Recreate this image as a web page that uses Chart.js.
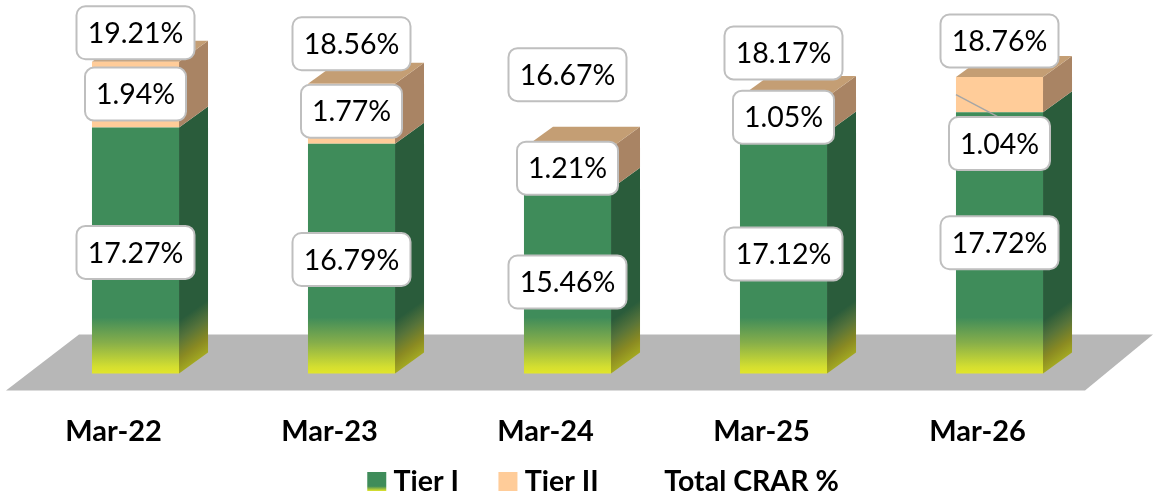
<!DOCTYPE html>
<html>
<head>
<meta charset="utf-8">
<style>html,body{margin:0;padding:0;background:#fff}canvas{display:block}</style>
<script src="https://cdn.jsdelivr.net/npm/chart.js@4"></script>
</head>
<body>
<canvas id="c" width="1153" height="498"></canvas>
<script>
const categories = ["Mar-22","Mar-23","Mar-24","Mar-25","Mar-26"];
const tierOne = [17.27,16.79,15.46,17.12,17.72];
const tierTwo = [1.94,1.77,1.21,1.05,1.04];
const totalCrar = [19.21,18.56,16.67,18.17,18.76];

// label nudges relative to each segment / stack top (pixels)
const tierOneNudge = [2,1,1,1,0];
const tierTwoNudge = [-0.5,-2.5,0,2.5,49];
const totalNudge = [-29,-40,-73,-44,-36];

const DEPTH_X = 29, DEPTH_Y = 21;
const FONT = "Lato, Carlito, sans-serif";
const LEGEND_SHIFT = 29;

function frontGradient(ctx, bottom){
  const g = ctx.createLinearGradient(0,bottom,0,bottom-56);
  g.addColorStop(0,'#E2E52B');
  g.addColorStop(0.12,'#D3DE30');
  g.addColorStop(0.55,'#86AE4A');
  g.addColorStop(1,'#3F8C5A');
  return g;
}
function poly(ctx, pts, fill){
  ctx.beginPath();
  pts.forEach((p,i)=> i?ctx.lineTo(p[0],p[1]):ctx.moveTo(p[0],p[1]));
  ctx.closePath();
  ctx.fillStyle = fill;
  ctx.fill();
}
const prism = {
  id:'prism',
  afterLayout(chart){
    const l = chart.legend;
    l.left += LEGEND_SHIFT; l.right += LEGEND_SHIFT;
    const d = 441 - l.top; l.top += d; l.bottom += d;
    chart.scales.x.bottom = 462;
  },
  beforeDatasetsDraw(chart){
    const ctx = chart.ctx, y = chart.scales.y, base = y.bottom;
    ctx.save();
    poly(ctx,[[6,base+17],[79,base-39],[chart.width,base-39],[1085,base+17]],'#B7B7B7');
    const m1 = chart.getDatasetMeta(0).data;
    m1.forEach((b,i)=>{
      const xr = b.x + b.width/2, xl = b.x - b.width/2;
      const y1 = y.getPixelForValue(tierOne[i]);
      const y2 = y.getPixelForValue(tierOne[i]+tierTwo[i]);
      const g = ctx.createLinearGradient(xr,base,xr-25,base-35);
      g.addColorStop(0,'#A3A821');
      g.addColorStop(0.28,'#8A8A22');
      g.addColorStop(0.65,'#56733A');
      g.addColorStop(1,'#2A5C3B');
      poly(ctx,[[xr,y1],[xr+DEPTH_X,y1-DEPTH_Y],[xr+DEPTH_X,base-DEPTH_Y],[xr,base]],g);
      poly(ctx,[[xr,y2],[xr+DEPTH_X,y2-DEPTH_Y],[xr+DEPTH_X,y1-DEPTH_Y],[xr,y1]],'#A98464');
      poly(ctx,[[xl,y2],[xl+DEPTH_X,y2-DEPTH_Y],[xr+DEPTH_X,y2-DEPTH_Y],[xr,y2]],'#C49E74');
    });
    ctx.restore();
  },
  afterDatasetsDraw(chart){
    const ctx = chart.ctx, y = chart.scales.y, base = y.bottom;
    const m1 = chart.getDatasetMeta(0).data;
    ctx.save();
    ctx.font = "28.5px "+FONT;
    ctx.textAlign='center'; ctx.textBaseline='middle';
    const box = (cx,cy,v)=>{
      const t = v.toFixed(2)+'%';
      const w = t.length===6?118:101, h = 53;
      ctx.beginPath();
      ctx.roundRect(cx-w/2,cy-h/2,w,h,9);
      ctx.fillStyle='#fff'; ctx.fill();
      ctx.lineWidth=2; ctx.strokeStyle='#BFBFBF'; ctx.stroke();
      ctx.fillStyle='#000';
      ctx.fillText(t,cx,cy+1);
    };
    m1.forEach((b,i)=>{
      const y1 = y.getPixelForValue(tierOne[i]);
      const y2 = y.getPixelForValue(tierOne[i]+tierTwo[i]);
      const c2 = (y1+y2)/2 + tierTwoNudge[i];
      if(tierTwoNudge[i]>20){
        ctx.beginPath();
        ctx.moveTo(b.x-b.width/2,(y1+y2)/2);
        ctx.lineTo(b.x,c2-26);
        ctx.lineWidth=1.5; ctx.strokeStyle='#A6A6A6'; ctx.stroke();
      }
      box(b.x,(base+y1)/2+tierOneNudge[i],tierOne[i]);
      box(b.x,c2,tierTwo[i]);
      box(b.x,y.getPixelForValue(totalCrar[i])+totalNudge[i],totalCrar[i]);
    });
    ctx.restore();
  },
  afterDraw(chart){
    // legend swatches sit closer to their text than the native gap allows
    const ctx = chart.ctx, hb = chart.legend.legendHitBoxes;
    ctx.save();
    const put = (i,fill)=>{
      ctx.fillStyle = fill;
      ctx.fillRect(hb[i].left+13, 472, 19, 19);
    };
    const g = ctx.createLinearGradient(0,472,0,491);
    g.addColorStop(0,'#3F8C5A');g.addColorStop(0.75,'#3F8C5A');g.addColorStop(1,'#E2E52B');
    put(0,g); put(1,'#FFCC99');
    ctx.restore();
  }
};

const chart = new Chart(document.getElementById('c'),{
  data:{
    labels:categories,
    datasets:[
      {type:'bar',label:'Tier I',data:tierOne,stack:'s',
       backgroundColor:c=>c.chart.chartArea?frontGradient(c.chart.ctx,c.chart.chartArea.bottom):'#3F8C5A',
       categoryPercentage:1,barPercentage:0.403,borderWidth:0},
      {type:'bar',label:'Tier II',data:tierTwo,stack:'s',backgroundColor:'#FFCC99',
       categoryPercentage:1,barPercentage:0.403,borderWidth:0},
      {type:'line',label:'Total CRAR %',data:totalCrar,stack:'t',
       borderColor:'rgba(0,0,0,0)',backgroundColor:'rgba(0,0,0,0)',pointRadius:0,borderWidth:0}
    ]
  },
  options:{
    responsive:false,animation:false,
    layout:{padding:{top:35,left:27.5,right:45.5,bottom:0}},
    scales:{
      x:{
        stacked:true,
        grid:{display:false},border:{display:false},
        afterFit(s){s.height=59.6;},
        ticks:{color:'#000',font:{family:FONT,size:29,weight:'bold'},padding:33,labelOffset:-22,maxRotation:0,autoSkip:false}
      },
      y:{display:false,stacked:true,min:10,max:20}
    },
    plugins:{
      tooltip:{enabled:false},
      legend:{
        position:'bottom',
        labels:{
          boxWidth:25,boxHeight:19,padding:26.5,color:'#000',
          font:{family:FONT,size:28.5,weight:'bold'},
          generateLabels(ch){
            const none='rgba(0,0,0,0)';
            return ['Tier I','Tier II','Total CRAR %'].map((text,datasetIndex)=>(
              {text,fillStyle:none,strokeStyle:none,lineWidth:0,datasetIndex}));
          }
        }
      }
    }
  },
  plugins:[prism]
});
</script>
</body>
</html>
